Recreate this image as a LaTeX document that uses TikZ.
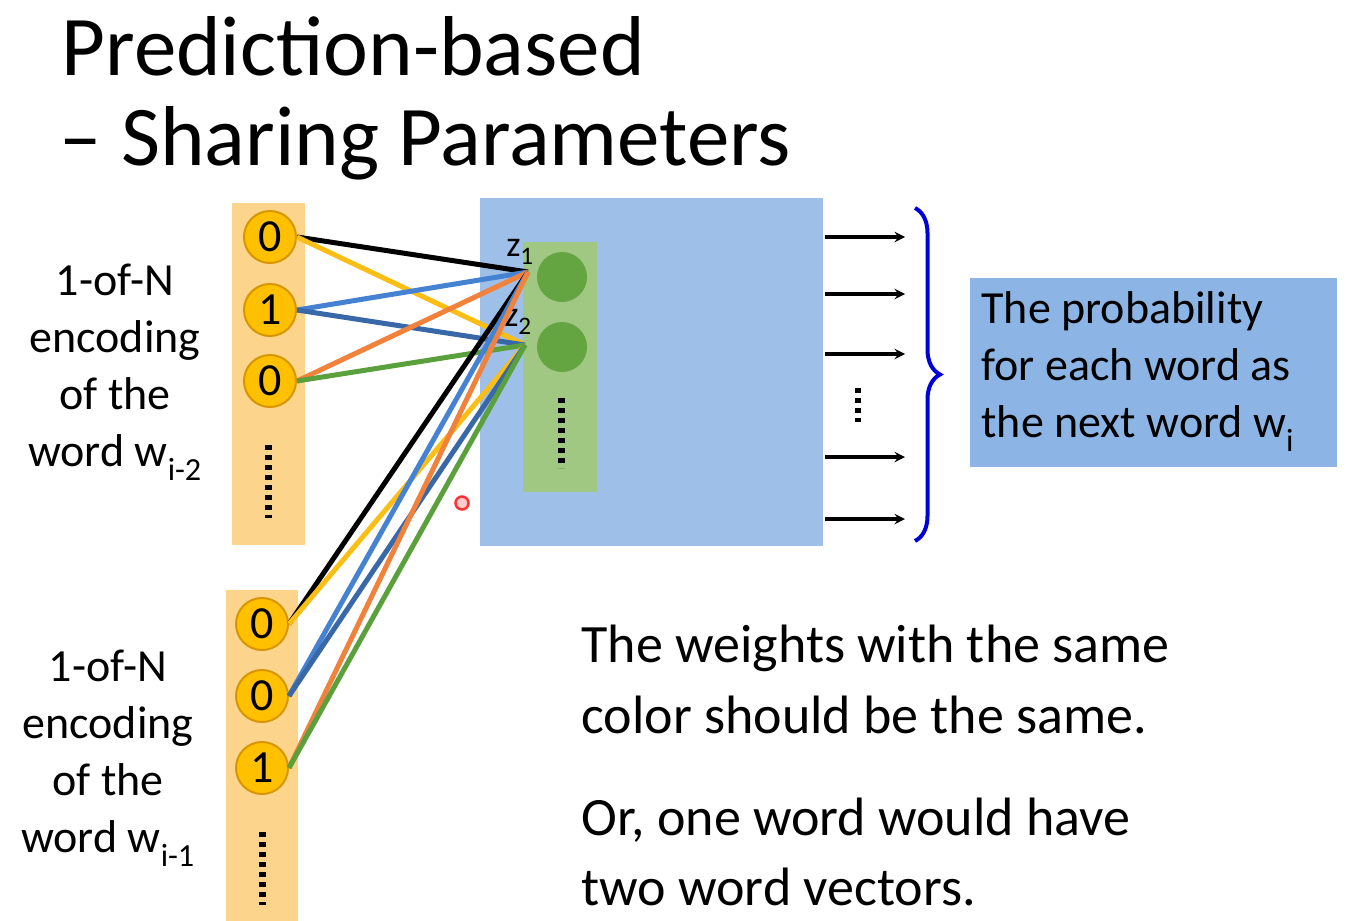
\documentclass[tikz,border=0pt]{standalone}
\usepackage{fontspec}
\setmainfont{Carlito}
\usetikzlibrary{decorations.pathreplacing}
\definecolor{colbg}{RGB}{252,212,140}
\definecolor{gold}{RGB}{255,192,0}
\definecolor{goldd}{RGB}{215,150,0}
\definecolor{boxblue}{RGB}{158,192,232}
\definecolor{boxblue2}{RGB}{140,180,228}
\definecolor{lgreen}{RGB}{160,200,130}
\definecolor{dgreen}{RGB}{100,165,65}
\definecolor{cblue}{RGB}{70,130,210}
\definecolor{corange}{RGB}{240,130,60}
\definecolor{cyellow}{RGB}{250,190,20}
\definecolor{cgreen}{RGB}{90,160,60}
\begin{document}
\begin{tikzpicture}[x=1pt,y=-1pt,
  bit/.style={circle,fill=gold,draw=goldd,line width=2pt,minimum size=52pt,inner sep=0pt,font=\fontsize{46}{46}\selectfont},
  neu/.style={circle,fill=dgreen,minimum size=50pt,inner sep=0pt},
  lbl/.style={align=center,font=\fontsize{46}{57}\selectfont},
  txt/.style={anchor=west,font=\fontsize{54}{54}\selectfont},
  w/.style={line width=5pt},
  vdots/.style={line width=7pt,dash pattern=on 5pt off 5pt,line cap=butt},
  arr/.style={-stealth,line width=3.5pt}]
\useasboundingbox (0,0) rectangle (1355,921);
\node[anchor=base west,font=\fontsize{85}{85}\selectfont] (t1) at (58,75) {Prediction-based};
\node[anchor=base west,font=\fontsize{85}{85}\selectfont] (t2) at (56,165) {– Sharing Parameters};
% columns
\fill[colbg] (232,203) rectangle (305,545);
\fill[colbg] (226,590) rectangle (298,921);
\fill[boxblue] (480,198) rectangle (823,546);
\fill[lgreen] (523,242) rectangle (597,492);
\node[neu] (n1) at (562,277) {};
\node[neu] (n2) at (562,347) {};
\coordinate (z1) at (528,272);
\coordinate (z2) at (525,345);
\node[font=\fontsize{36}{36}\selectfont] (z1l) at (520,252) {z\textsubscript{1}};
\node[font=\fontsize{36}{36}\selectfont] (z2l) at (518,322) {z\textsubscript{2}};
\node[bit] (a1) at (270,237) {0};
\node[bit] (a2) at (270,310) {1};
\node[bit] (a3) at (270,381) {0};
\node[bit] (b1) at (262,624) {0};
\node[bit] (b2) at (262,696) {0};
\node[bit] (b3) at (262,768) {1};
\draw[vdots] (268,445) -- (268,518);
\draw[vdots] (262,832) -- (262,905);
\draw[vdots] (561,398) -- (561,468);
% weights
\draw[w,black] (a1.east) -- (z1);
\draw[w,cyellow] (a1.east) -- (z2);
\draw[w,cblue] (a2.east) -- (z1);
\draw[w,cblue!80!black] (a2.east) -- (z2);
\draw[w,corange] (a3.east) -- (z1);
\draw[w,cgreen] (a3.east) -- (z2);
\draw[w,black] (b1.east) -- (z1);
\draw[w,cyellow] (b1.east) -- (z2);
\draw[w,cblue] (b2.east) -- (z1);
\draw[w,cblue!80!black] (b2.east) -- (z2);
\draw[w,corange] (b3.east) -- (z1);
\draw[w,cgreen] (b3.east) -- (z2);
\node[circle,draw=red!80,fill=red!20,line width=2.5pt,minimum size=13pt,inner sep=0pt] (dot) at (462,503) {};
% outputs
\foreach \y [count=\i] in {237,294,354,457,519}{
  \coordinate (s\i) at (825,\y); \coordinate (e\i) at (905,\y);
  \draw[arr] (s\i) -- (e\i);}
\draw[vdots,line width=6pt,dash pattern=on 5pt off 5pt] (858,388) -- (858,422);
\draw[blue!85!black,line width=4pt,decorate,decoration={brace,amplitude=25pt}] (915,208) -- (915,541);
\fill[boxblue2] (970,278) rectangle (1337,467);
\node[anchor=north west,align=left,font=\fontsize{46}{57}\selectfont] (prob) at (978,288) {The probability\\for each word as\\the next word w\textsubscript{i}};
\node[lbl] (l1) at (115,372) {1-of-N\\encoding\\of the\\word w\textsubscript{i-2}};
\node[lbl] (l2) at (108,758) {1-of-N\\encoding\\of the\\word w\textsubscript{i-1}};
\node[txt] (m1) at (578,648) {The weights with the same};
\node[txt] (m2) at (578,715) {color should be the same.};
\node[txt] (m3) at (578,820) {Or, one word would have};
\node[txt] (m4) at (578,887) {two word vectors.};
\end{tikzpicture}
\end{document}
